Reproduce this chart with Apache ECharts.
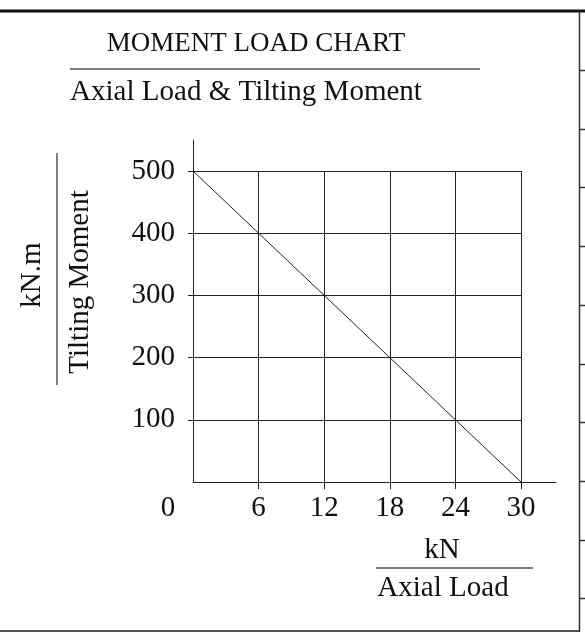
<!DOCTYPE html>
<html lang="en">
<head>
<meta charset="UTF-8" />
<title>Moment Load Chart</title>
<script src="https://cdn.jsdelivr.net/npm/echarts@6/dist/echarts.min.js"></script>
<style type="text/css">
html,body{margin:0;padding:0;background:#fff;}
#main{width:585px;height:637px;}
</style>
</head>
<body>
<div id="main"></div>
<script type="text/javascript">
// data
var axialLoad = [0, 6, 12, 18, 24, 30];          // kN
var tiltingMoment = [500, 400, 300, 200, 100, 0]; // kN.m
var xTicks = [0, 6, 12, 18, 24, 30];
var yTicks = [100, 200, 300, 400, 500];

var serif = '"Liberation Serif", "DejaVu Serif", serif';
var ink = '#111';

var points = [];
for (var i = 0; i < axialLoad.length; i++) {
    points.push([axialLoad[i], tiltingMoment[i]]);
}

// frame decorations on the right edge
var frame = [
    {type:'line', shape:{x1:0, y1:11, x2:585, y2:11}, style:{stroke:'#111', lineWidth:3}},
    {type:'line', shape:{x1:0, y1:631, x2:580, y2:631}, style:{stroke:'#555', lineWidth:2}},
    {type:'line', shape:{x1:579.5, y1:11, x2:579.5, y2:632}, style:{stroke:'#333', lineWidth:1.5}}
];
for (var k = 0; k < 10; k++) {
    var ty = Math.round(70 + k * 58.7) + 0.5;
    frame.push({type:'line', shape:{x1:580, y1:ty, x2:585, y2:ty}, style:{stroke:'#333', lineWidth:1.5}});
}

var texts = [
    {type:'text', x:256, y:44, style:{text:'MOMENT LOAD CHART', font:'27px ' + serif, fill:ink, align:'center', verticalAlign:'middle'}},
    {type:'line', shape:{x1:70, y1:69, x2:480, y2:69}, style:{stroke:'#555', lineWidth:1.5}},
    {type:'text', x:246, y:92, style:{text:'Axial Load & Tilting Moment', font:'29px ' + serif, fill:ink, align:'center', verticalAlign:'middle'}},
    // y axis title
    {type:'text', x:32, y:275, rotation:Math.PI/2, style:{text:'kN.m', font:'29px ' + serif, fill:ink, align:'center', verticalAlign:'middle'}},
    {type:'line', shape:{x1:57, y1:153, x2:57, y2:385}, style:{stroke:'#555', lineWidth:1.5}},
    {type:'text', x:80, y:282, rotation:Math.PI/2, style:{text:'Tilting Moment', font:'29px ' + serif, fill:ink, align:'center', verticalAlign:'middle'}},
    // x axis title
    {type:'text', x:442, y:550, style:{text:'kN', font:'29px ' + serif, fill:ink, align:'center', verticalAlign:'middle'}},
    {type:'line', shape:{x1:376, y1:568, x2:533, y2:568}, style:{stroke:'#555', lineWidth:1.5}},
    {type:'text', x:443, y:588, style:{text:'Axial Load', font:'29px ' + serif, fill:ink, align:'center', verticalAlign:'middle'}}
];

var myChart = echarts.init(document.getElementById('main'));
myChart.setOption({
    animation: false,
    backgroundColor: '#fff',
    grid: [
        // inner: the squared grid 0..30 x 0..500
        {left:193, top:171, width:328, height:311},
        // outer: only the long axis lines
        {left:193, top:140, width:363, height:342}
    ],
    xAxis: [
        {
            type:'value', gridIndex:0, min:0, max:30, interval:6,
            axisLine:{show:false},
            axisTick:{show:true, length:7, customValues:[6, 12, 18, 24, 30], lineStyle:{color:'#222', width:1}},
            axisLabel:{
                customValues: xTicks,
                margin: 12,
                color: ink, fontFamily: serif, fontSize: 29,
                formatter: function(v){ return v === 0 ? '{z|0}' : String(v); },
                rich: { z: {fontFamily: serif, fontSize: 29, color: ink, padding:[0, 50, 0, 0]} }
            },
            splitLine:{show:true, lineStyle:{color:'#222', width:1}}
        },
        {
            type:'value', gridIndex:1, min:0, max:30 * 363 / 328,
            axisLine:{show:true, lineStyle:{color:'#222', width:1}},
            axisTick:{show:false}, axisLabel:{show:false}, splitLine:{show:false}
        }
    ],
    yAxis: [
        {
            type:'value', gridIndex:0, min:0, max:500, interval:100,
            axisLine:{show:false},
            axisTick:{show:true, length:5, customValues: yTicks, lineStyle:{color:'#222', width:1}},
            axisLabel:{customValues: yTicks, margin:18, color: ink, fontFamily: serif, fontSize: 29},
            splitLine:{show:true, lineStyle:{color:'#222', width:1}}
        },
        {
            type:'value', gridIndex:1, min:0, max:500 * 342 / 311,
            axisLine:{show:true, lineStyle:{color:'#222', width:1}},
            axisTick:{show:false}, axisLabel:{show:false}, splitLine:{show:false}
        }
    ],
    series: [
        {
            name:'Moment', type:'line', xAxisIndex:0, yAxisIndex:0,
            data: points,
            showSymbol:false, symbol:'none',
            lineStyle:{color:'#222', width:1}
        }
    ],
    graphic: frame.concat(texts)
});
</script>
</body>
</html>
